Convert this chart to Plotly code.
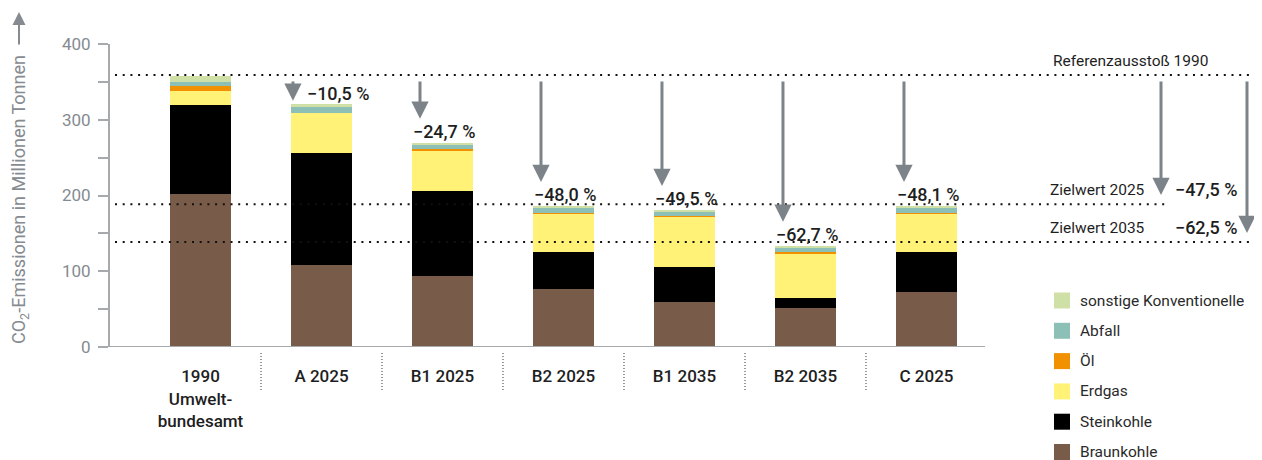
import plotly.graph_objects as go

# ---------------- data ----------------
categories = ["1990<br>Umwelt-<br>bundesamt", "A 2025", "B1 2025", "B2 2025",
              "B1 2035", "B2 2035", "C 2025"]
braunkohle = [202, 108, 94, 77, 59.5, 51.5, 72.5]
steinkohle = [117, 148, 112.5, 49, 46, 13, 53]
erdgas = [19, 52.5, 53, 50, 66.5, 59.5, 50.5]
oel = [7, 0, 1.5, 1, 1.5, 1.5, 1.5]
abfall = [5, 8, 5.5, 6, 6, 6, 6.5]
sonstige = [8, 4, 3, 3, 1.5, 2, 2]
reduction_pct = [None, -10.5, -24.7, -48.0, -49.5, -62.7, -48.1]

reference_1990 = 359
reference_label = "Referenzausstoß 1990"
target_values = [188.5, 138.5]
target_labels = ["Zielwert 2025", "Zielwert 2035"]
target_pct = [-47.5, -62.5]

series = [
    ("Braunkohle", braunkohle, "#795b4a"),
    ("Steinkohle", steinkohle, "#000000"),
    ("Erdgas", erdgas, "#fff277"),
    ("Öl", oel, "#f29100"),
    ("Abfall", abfall, "#8cbfb6"),
    ("sonstige Konventionelle", sonstige, "#cfe0a6"),
]

# ---------------- layout helpers ----------------
OFF = 8                      # page body margin of the browser
W, H = 1262 - OFF, 460 - OFF
S_PL, S_PR, S_PT, S_PB = 110, 1262, 44, 347   # plot area in screen pixels
PL, PR, PT, PB = S_PL - OFF, S_PR - OFF, S_PT - OFF, S_PB - OFF
YMAX = 400
XMIN, XMAX = -0.748, 8.773
FONT = "Roboto"
GREY = "#858b90"
AXIS_GREY = "#a6aaad"
ARROW_GREY = "#7d8489"
DARK = "#1e1e1e"


def px_x(p):
    return (p - S_PL) / (S_PR - S_PL)


def px_y(p):
    return (S_PB - p) / (S_PB - S_PT)


def u_per_px_y():
    return YMAX / (S_PB - S_PT)


def x_at_px(p):
    return XMIN + (p - S_PL) / (S_PR - S_PL) * (XMAX - XMIN)


def fmt_pct(v):
    return "\u2212" + f"{abs(v):.1f}".replace(".", ",") + " %"


xs = list(range(len(categories)))
totals = [sum(s[1][i] for s in series) for i in xs]

fig = go.Figure()
for name, vals, col in series:
    fig.add_trace(go.Bar(x=xs, y=vals, name=name, width=0.504,
                         marker=dict(color=col, line=dict(width=0)),
                         hoverinfo="skip"))

shapes = []
annotations = []

# reference & target dotted lines
DOT = "2px,5.7px"
shapes.append(dict(type="line", xref="paper", yref="y", x0=px_x(115), x1=1,
                   y0=reference_1990, y1=reference_1990,
                   line=dict(color="#111111", width=2, dash=DOT), layer="above"))
target_ends = [px_x(1167), 1]
for tv, xe in zip(target_values, target_ends):
    shapes.append(dict(type="line", xref="paper", yref="y", x0=px_x(115), x1=xe,
                       y0=tv, y1=tv,
                       line=dict(color="#111111", width=2, dash=DOT), layer="above"))

# x axis line
shapes.append(dict(type="line", xref="paper", yref="y", x0=0, x1=px_x(985),
                   y0=0, y1=0, line=dict(color=AXIS_GREY, width=2), layer="above"))

# category separators
for k in range(len(categories) - 1):
    shapes.append(dict(type="line", xref="x", yref="paper", x0=k + 0.5, x1=k + 0.5,
                       y0=px_y(353), y1=px_y(390),
                       line=dict(color="#333333", width=1, dash="1px,2px")))

# reduction arrows and labels
ARW = dict(arrowhead=2, arrowsize=1.15, arrowwidth=3, arrowcolor=ARROW_GREY, standoff=0)
tail = reference_1990 - 5 * u_per_px_y()
for i in xs:
    p = reduction_pct[i]
    if p is None:
        continue
    gap = reference_1990 - totals[i]
    if gap < 60:
        ax_x = i - 0.236
        tip = totals[i] + 3.5 * u_per_px_y()
        annotations.append(dict(x=i - 0.136, y=totals[i], xref="x", yref="y",
                                text=fmt_pct(p), showarrow=False, xanchor="left",
                                yanchor="bottom", yshift=-2,
                                font=dict(family=FONT, size=18, color=DARK, weight=500)))
    else:
        ax_x = i - 0.186
        tip = totals[i] + 24 * u_per_px_y()
        annotations.append(dict(x=i + 0.02, y=totals[i], xref="x", yref="y",
                                text=fmt_pct(p), showarrow=False, xanchor="center",
                                yanchor="bottom", yshift=-1,
                                font=dict(family=FONT, size=18, color=DARK, weight=500)))
    annotations.append(dict(x=ax_x, y=tip, ax=ax_x, ay=tail, xref="x", yref="y",
                            axref="x", ayref="y", text="", showarrow=True, **ARW))

# right side: reference label, targets
annotations.append(dict(x=px_x(1210), y=reference_1990, xref="paper", yref="y",
                        text=reference_label, showarrow=False, xanchor="right",
                        yanchor="middle", yshift=14,
                        font=dict(family=FONT, size=15.5, color=DARK)))
arrow_px = [1161, 1247]
for tv, lab, tp, apx in zip(target_values, target_labels, target_pct, arrow_px):
    annotations.append(dict(x=px_x(1147), y=tv, xref="paper", yref="y", text=lab,
                            showarrow=False, xanchor="right", yanchor="middle",
                            yshift=14.5, font=dict(family=FONT, size=15.5, color=DARK)))
    annotations.append(dict(x=px_x(1173), y=tv, xref="paper", yref="y", text=fmt_pct(tp),
                            showarrow=False, xanchor="left", yanchor="middle",
                            yshift=14.5,
                            font=dict(family=FONT, size=18, color=DARK, weight=500)))
    ax_x = x_at_px(apx)
    annotations.append(dict(x=ax_x, y=tv + 12, ax=ax_x, ay=tail, xref="x", yref="y",
                            axref="x", ayref="y", text="", showarrow=True, **ARW))

# y axis title with arrow
annotations.append(dict(x=px_x(20), y=px_y(200), xref="paper", yref="paper",
                        text="CO<sub>2</sub>-Emissionen in Millionen Tonnen",
                        textangle=-90, showarrow=False, xanchor="center", yanchor="middle",
                        font=dict(family=FONT, size=18, color=GREY)))
annotations.append(dict(x=px_x(19), y=px_y(12), xref="paper", yref="paper",
                        ax=0, ay=34, axref="pixel", ayref="pixel", text="",
                        showarrow=True, arrowhead=2, arrowsize=1.3, arrowwidth=2,
                        arrowcolor=GREY, standoff=0))

# legend (top to bottom = reverse stack order)
leg_y0, leg_step = 300.5, 30.3
for j, (name, vals, col) in enumerate(reversed(series)):
    cy = leg_y0 + j * leg_step
    shapes.append(dict(type="rect", xref="paper", yref="paper",
                       x0=px_x(1054), x1=px_x(1070), y0=px_y(cy - 8), y1=px_y(cy + 8),
                       fillcolor=col, line=dict(width=0)))
    annotations.append(dict(x=px_x(1078), y=px_y(cy), xref="paper", yref="paper",
                            text=name, showarrow=False, xanchor="left", yanchor="middle",
                            font=dict(family=FONT, size=15.5, color="#2a2a2a")))

fig.update_layout(
    width=W, height=H, barmode="stack", showlegend=False,
    margin=dict(l=PL, r=W - PR, t=PT, b=H - PB, pad=0),
    paper_bgcolor="white", plot_bgcolor="white",
    font=dict(family=FONT),
    xaxis=dict(range=[XMIN, XMAX], tickvals=xs, ticktext=categories,
               showline=False, showgrid=False, zeroline=False,
               ticks="outside", ticklen=14, tickcolor="rgba(0,0,0,0)",
               tickfont=dict(family=FONT, size=17, color=DARK, weight=500)),
    yaxis=dict(range=[0, YMAX], tickvals=[0, 100, 200, 300, 400],
               showline=True, linecolor=AXIS_GREY, linewidth=2,
               showgrid=False, zeroline=False,
               ticks="outside", ticklen=10, tickwidth=1.5, tickcolor=AXIS_GREY,
               minor=dict(dtick=50, tick0=0, ticks="outside", ticklen=10,
                          tickwidth=1.5, tickcolor=AXIS_GREY),
               ticklabelstandoff=4,
               tickfont=dict(family=FONT, size=17, color=GREY)),
    shapes=shapes, annotations=annotations,
)

fig.write_html("out.html")
